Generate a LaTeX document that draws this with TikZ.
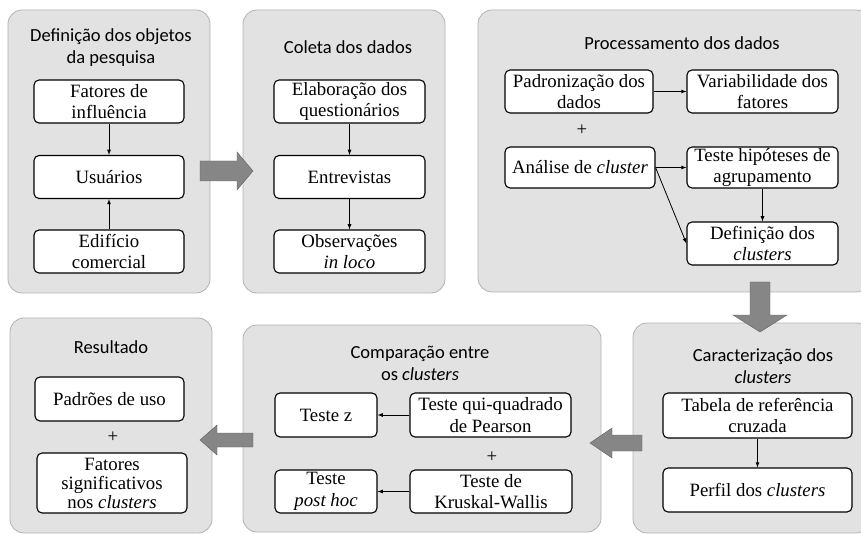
\documentclass[tikz,border=0pt]{standalone}
\usepackage{fontspec}
\setmainfont{Liberation Serif}
\newfontfamily\titlefont{Carlito}
\tikzset{
  panel/.style={draw=gray!60,fill=gray!23,rounded corners=14pt,line width=0.8pt,inner sep=0pt},
  box/.style={draw,fill=white,rounded corners=5pt,line width=1.1pt,align=center,inner sep=1pt,
              font=\fontsize{18.8}{21.5}\selectfont},
  heading/.style={font=\titlefont\fontsize{18.5}{22}\selectfont,align=center},
  plus/.style={font=\fontsize{18.8}{21.5}\selectfont,inner sep=0pt},
  link/.style={-latex,line width=0.8pt},
  fatarrow/.style={fill=gray!95,draw=gray!75!black,line width=0.4pt}
}
\begin{document}
\begin{tikzpicture}[x=1pt,y=-1pt]
  \useasboundingbox (0,0) rectangle (861,534);

  % panels
  \node[panel,minimum width=202pt,minimum height=283pt] (pdef) at (109,151.5) {};
  \node[panel,minimum width=202pt,minimum height=283pt] (pcol) at (344,151.5) {};
  \node[panel,minimum width=392pt,minimum height=282pt] (pproc) at (674,151) {};
  \node[panel,minimum width=202pt,minimum height=215pt] (pres) at (111,425.5) {};
  \node[panel,minimum width=358pt,minimum height=207pt] (pcomp) at (422,428.5) {};
  \node[panel,minimum width=237pt,minimum height=210pt] (pcar) at (751.5,428) {};

  % headings
  \node[heading] (hdef) at (111,48) {Definição dos objetos\\da pesquisa};
  \node[heading] (hcol) at (348,47) {Coleta dos dados};
  \node[heading] (hproc) at (682,43) {Processamento dos dados};
  \node[heading] (hres) at (111,347) {Resultado};
  \node[heading] (hcomp) at (420,363) {Comparação entre\\os \textit{clusters}};
  \node[heading] (hcar) at (763,366) {Caracterização dos\\\textit{clusters}};

  % Definicao dos objetos
  \node[box,minimum width=150pt,minimum height=43pt] (fatores) at (109,101.5) {Fatores de\\influência};
  \node[box,minimum width=150pt,minimum height=43pt] (usuarios) at (109,177) {Usuários};
  \node[box,minimum width=150pt,minimum height=43pt] (edificio) at (109,251.5) {Edifício\\comercial};
  \draw[link] (fatores) -- (usuarios);
  \draw[link] (edificio) -- (usuarios);

  % Coleta
  \node[box,minimum width=151pt,minimum height=43pt] (elab) at (349.5,101.5) {Elaboração dos\\questionários};
  \node[box,minimum width=151pt,minimum height=43pt] (entrev) at (349.5,177) {Entrevistas};
  \node[box,minimum width=151pt,minimum height=43pt] (obs) at (349.5,251.5) {Observações\\\textit{in loco}};
  \draw[link] (elab) -- (entrev);
  \draw[link] (entrev) -- (obs);

  % Processamento
  \node[box,minimum width=148pt,minimum height=43pt] (padron) at (579,91.5) {Padronização dos\\dados};
  \node[box,minimum width=151pt,minimum height=43pt] (variab) at (762.5,91.5) {Variabilidade dos\\fatores};
  \node[plus] (plusproc) at (582,130) {+};
  \node[box,minimum width=150pt,minimum height=41pt] (analise) at (580,167.5) {Análise de \textit{cluster}};
  \node[box,minimum width=151pt,minimum height=41pt] (hipot) at (762.5,167.5) {Teste hipóteses de\\agrupamento};
  \node[box,minimum width=151pt,minimum height=43pt] (defclu) at (762.5,243.5) {Definição dos\\\textit{clusters}};
  \draw[link] (padron) -- (variab);
  \draw[link] (analise) -- (hipot);
  \draw[link] (hipot) -- (defclu);
  \draw[link] (analise.east) -- (defclu.west);

  % Caracterizacao
  \node[box,minimum width=189pt,minimum height=45pt] (tabela) at (757.5,415.5) {Tabela de referência\\cruzada};
  \node[box,minimum width=189pt,minimum height=44pt] (perfil) at (757.5,490) {Perfil dos \textit{clusters}};
  \draw[link] (tabela) -- (perfil);

  % Comparacao
  \node[box,minimum width=102pt,minimum height=44pt] (testez) at (326,415) {Teste z};
  \node[box,minimum width=161pt,minimum height=44pt] (qui) at (490.5,415) {Teste qui-quadrado\\de Pearson};
  \node[plus] (pluscomp) at (492,457) {+};
  \node[box,minimum width=102pt,minimum height=43pt] (posthoc) at (326,491.5) {Teste\\\textit{post hoc}};
  \node[box,minimum width=162pt,minimum height=43pt] (kruskal) at (491,491.5) {Teste de\\Kruskal-Wallis};
  \draw[link] (qui) -- (testez);
  \draw[link] (kruskal) -- (posthoc);

  % Resultado
  \node[box,minimum width=149pt,minimum height=44pt] (padroes) at (109.5,399) {Padrões de uso};
  \node[plus] (plusres) at (113,437) {+};
  \node[box,minimum width=150pt,minimum height=60pt,font=\fontsize{18.8}{19}\selectfont] (signif) at (112,483)
       {Fatores\\significativos\\nos \textit{clusters}};

  % big arrows between the steps
  \draw[fatarrow] (200,161) -- (237,161) -- (237,152) -- (253,171) -- (237,190) -- (237,181) -- (200,181) -- cycle;
  \draw[fatarrow] (750,282) -- (770,282) -- (770,315) -- (787,315) -- (760,332) -- (733,315) -- (750,315) -- cycle;
  \draw[fatarrow] (642,435) -- (612,435) -- (612,428) -- (590,443) -- (612,458) -- (612,451) -- (642,451) -- cycle;
  \draw[fatarrow] (253,433) -- (217,433) -- (217,425) -- (200,440) -- (217,455) -- (217,447) -- (253,447) -- cycle;
\end{tikzpicture}
\end{document}
